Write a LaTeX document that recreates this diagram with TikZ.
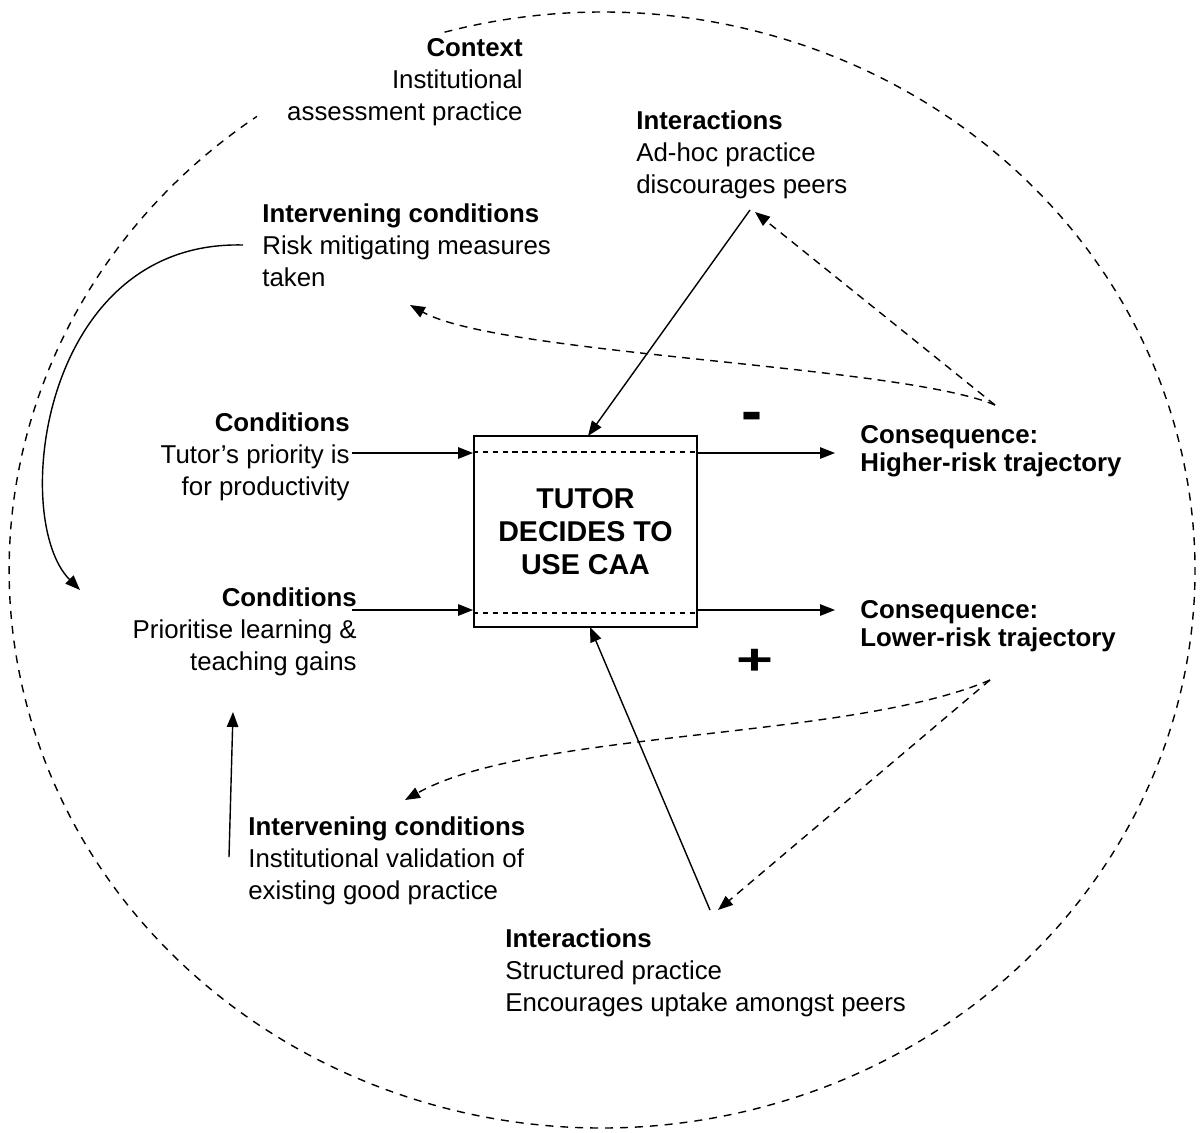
\documentclass[tikz,border=0pt]{standalone}
\usepackage{fontspec}
\setmainfont{Liberation Sans}
\usetikzlibrary{arrows.meta,calc}
\begin{document}
\begin{tikzpicture}[x=0.02cm,y=0.02cm,
  txt/.style={inner sep=0pt, font=\fontsize{14.7pt}{18.2pt}\selectfont},
  arr/.style={line width=0.8pt,-{Triangle[length=8.5pt,width=6.5pt]}},
  darr/.style={arr, dash pattern=on 4.5pt off 3.5pt},
  outer/.style={line width=0.8pt, dash pattern=on 4.5pt off 4pt},
  inner/.style={line width=0.7pt, dash pattern=on 3pt off 2.6pt},
  sign/.style={inner sep=0pt, font=\bfseries}]
\path[use as bounding box] (0,0) rectangle (1202,-1132);

% outer context ellipse
\coordinate (O) at (602,-570);
\draw[outer] ($(O)+(105.4:11.86cm and 11.16cm)$)
  arc[start angle=105.4, end angle=-234.4, x radius=11.86cm, y radius=11.16cm];

% texts
\node[txt, anchor=north east, align=right] (ctx) at (523,-38)
  {\textbf{Context}\\Institutional\\assessment practice};
\node[txt, anchor=north west, align=left] (intA) at (636,-110)
  {\textbf{Interactions}\\Ad-hoc practice\\discourages peers};
\node[txt, anchor=north west, align=left] (ivA) at (262,-203)
  {\textbf{Intervening conditions}\\Risk mitigating measures\\taken};
\node[txt, anchor=north east, align=right] (condA) at (350,-412)
  {\textbf{Conditions}\\Tutor’s priority is\\for productivity};
\node[txt, anchor=north east, align=right] (condB) at (357,-587)
  {\textbf{Conditions}\\Prioritise learning \&\\teaching gains};
\node[txt, anchor=north west, align=left, font=\fontsize{14.7pt}{16pt}\selectfont\bfseries] (conA) at (860,-425)
  {Consequence:\\Higher-risk trajectory};
\node[txt, anchor=north west, align=left, font=\fontsize{14.7pt}{16pt}\selectfont\bfseries] (conB) at (860,-600)
  {Consequence:\\Lower-risk trajectory};
\node[txt, anchor=north west, align=left] (ivB) at (248,-816)
  {\textbf{Intervening conditions}\\Institutional validation of\\existing good practice};
\node[txt, anchor=north west, align=left] (intB) at (505,-928)
  {\textbf{Interactions}\\Structured practice\\Encourages uptake amongst peers};

% central box
\node[draw, line width=1.1pt, minimum width=4.46cm, minimum height=3.82cm, inner sep=0pt,
  align=center, font=\fontsize{16.3pt}{18.8pt}\selectfont\bfseries] (tutor) at (585.5,-531.5)
  {TUTOR\\DECIDES TO\\USE CAA};
\draw[inner] ($(tutor.north west)+(0,-17)$) -- ($(tutor.north east)+(0,-17)$);
\draw[inner] ($(tutor.south west)+(0,15)$) -- ($(tutor.south east)+(0,15)$);

% signs
\node[sign, font=\fontsize{36pt}{36pt}\selectfont\bfseries] (minus) at (752,-422) {-};
\node[sign] (plus) at (755,-662) {\scalebox{1}[0.68]{\fontsize{36pt}{36pt}\selectfont\bfseries +}};

% connector end points
\coordinate (cA) at (352,-453);
\coordinate (cB) at (352,-610);
\coordinate (oA) at (835,-453);
\coordinate (oB) at (835,-610);
\coordinate (tA) at (588,-436);
\coordinate (tB) at (590,-627);
\coordinate (pA) at (750,-210);
\coordinate (pA2) at (755,-212);
\coordinate (pB) at (710,-910);
\coordinate (pB2) at (718,-910);
\coordinate (qA) at (995,-405);
\coordinate (qB) at (990,-680);
\coordinate (ivAend) at (410,-305);
\coordinate (ivBend) at (405,-800);
\coordinate (ivAstart) at (243,-245);
\coordinate (condBend) at (80,-590);
\coordinate (ivBstart) at (229,-857);
\coordinate (condBup) at (233,-712);

% connectors
\draw[arr] (cA) -- (cA -| tutor.west);
\draw[arr] (cB) -- (cB -| tutor.west);
\draw[arr] (tutor.east |- oA) -- (oA);
\draw[arr] (tutor.east |- oB) -- (oB);
\draw[arr] (pA) -- (tA);
\draw[arr] (pB) -- (tB);
\draw[darr] (qA) -- (pA2);
\draw[darr] (qA) .. controls (900,-365) and (500,-355) .. (ivAend);
\draw[darr] (qB) -- (pB2);
\draw[darr] (qB) .. controls (850,-740) and (530,-730) .. (ivBend);
\draw[arr] (ivAstart) .. controls (40,-240) and (10,-520) .. (condBend);
\draw[arr] (ivBstart) -- (condBup);
\end{tikzpicture}
\end{document}
